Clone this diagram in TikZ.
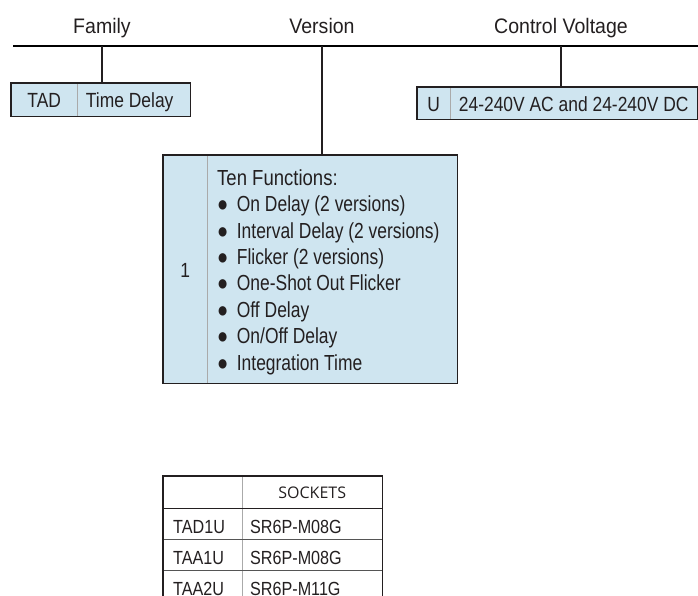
\documentclass[tikz,border=0pt]{standalone}
\usepackage{fontspec}
\setmainfont{Liberation Sans}[FakeStretch=0.85]
\newfontfamily\headfont{Liberation Sans}[FakeStretch=0.93]
\newfontfamily\itemfont{Liberation Sans}[FakeStretch=0.80]
\newfontfamily\sockfont{Open Sans}
\usetikzlibrary{positioning}

\definecolor{cellblue}{RGB}{207,229,240}
\definecolor{ink}{RGB}{35,31,32}
\definecolor{rulegray}{RGB}{170,170,170}
\definecolor{rowgray}{RGB}{85,85,85}

\newcommand\fnitem[1]{●\hspace{8.5pt}{\itemfont #1}}

\begin{document}
\begin{tikzpicture}
[
    x = 1pt, y = -1pt,
    every node/.append style = {text = ink, inner sep = 0},
    head/.style = {font = \headfont\fontsize{21}{21}\selectfont, anchor = base},
    cell/.style = {fill = cellblue, anchor = north west, font = \fontsize{20.5}{20.5}\selectfont,
                   text height = 15.8pt, text depth = 0pt},
    rowcell/.style = {anchor = north west, font = \fontsize{19}{19}\selectfont,
                      text height = 19pt, text depth = 0pt, minimum height = 31pt},
    frame/.style = {draw = ink, line width = 1.6pt},
    divider/.style = {draw = rulegray, line width = 1.2pt},
    rowline/.style = {draw = rowgray, line width = 1.4pt},
    stem/.style = {draw = ink, line width = 1.6pt},
    bar/.style = {draw = black, line width = 2.2pt}
]
\clip (0,0) rectangle (698,595);

% headings and bar
\node[head] (family) at (102,33) {Family};
\node[head] (version) at (322,33) {Version};
\node[head] (voltage) at (561,33) {Control Voltage};
\coordinate (barL) at (13,46);
\coordinate (barR) at (698,46);
\draw[bar] (barL) -- (barR);

% family
\node[cell, minimum width = 66pt, minimum height = 33pt] (tad) at (11,83) {TAD};
\node[cell, minimum width = 113pt, minimum height = 33pt] (tadtext) at (77,83) {Time Delay\kern8pt};
\draw[divider] (tad.north east) -- (tad.south east);
\draw[frame] (tad.north west) rectangle (tadtext.south east);

% control voltage
\node[cell, minimum width = 33pt, minimum height = 32pt] (ucode) at (417,87) {U};
\node[cell, minimum width = 247pt, minimum height = 32pt] (utext) at (450,87) {24-240V AC and 24-240V DC};
\draw[divider] (ucode.north east) -- (ucode.south east);
\draw[frame] (ucode.north west) rectangle (utext.south east);

% version
\node[cell, minimum width = 44pt, minimum height = 228pt] (vcode) at (163,155) {1};
\node[cell, minimum width = 250pt, minimum height = 228pt] (vtext) at (207,155) {};
\node[anchor = north west, align = left, font = \fontsize{21.8}{26.4}\selectfont] (vlist) at (217,169.3)
    {Ten Functions:\\
     \fnitem{On Delay (2 versions)}\\
     \fnitem{Interval Delay (2 versions)}\\
     \fnitem{Flicker (2 versions)}\\
     \fnitem{One-Shot Out Flicker}\\
     \fnitem{Off Delay}\\
     \fnitem{On/Off Delay}\\
     \fnitem{Integration Time}};
\draw[divider] (vcode.north east) -- (vcode.south east);
\draw[frame] (vcode.north west) rectangle (vtext.south east);

% stems
\draw[stem] (family |- barL) -- (family |- tad.north);
\draw[stem] (version |- barL) -- (version |- vtext.north);
\draw[stem] (voltage |- barL) -- (voltage |- utext.north);

% sockets table
\node[anchor = north west, minimum width = 79pt, minimum height = 32pt] (th0) at (163,476) {};
\node[anchor = north west, minimum width = 140pt, minimum height = 32pt,
      text height = 12.6pt, text depth = 0pt,
      font = \sockfont\fontsize{16}{16}\selectfont] (th1) at (242,476) {SOCKETS};
\node[rowcell, inner xsep = 10pt, text width = 59pt] (r1a) at (163,508) {TAD1U};
\node[rowcell, inner xsep = 8pt, text width = 124pt] (r1b) at (242,508) {SR6P-M08G};
\node[rowcell, inner xsep = 10pt, text width = 59pt] (r2a) at (163,539) {TAA1U};
\node[rowcell, inner xsep = 8pt, text width = 124pt] (r2b) at (242,539) {SR6P-M08G};
\node[rowcell, inner xsep = 10pt, text width = 59pt] (r3a) at (163,570) {TAA2U};
\node[rowcell, inner xsep = 8pt, text width = 124pt] (r3b) at (242,570) {SR6P-M11G};
\draw[divider] (th0.north east) -- (r3a.south east);
\draw[frame] (th0.south west) -- (th1.south east);
\draw[rowline] (r1a.south west) -- (r1b.south east);
\draw[rowline] (r2a.south west) -- (r2b.south east);
\draw[frame] (th0.north west) rectangle (r3b.south east);
\end{tikzpicture}
\end{document}
